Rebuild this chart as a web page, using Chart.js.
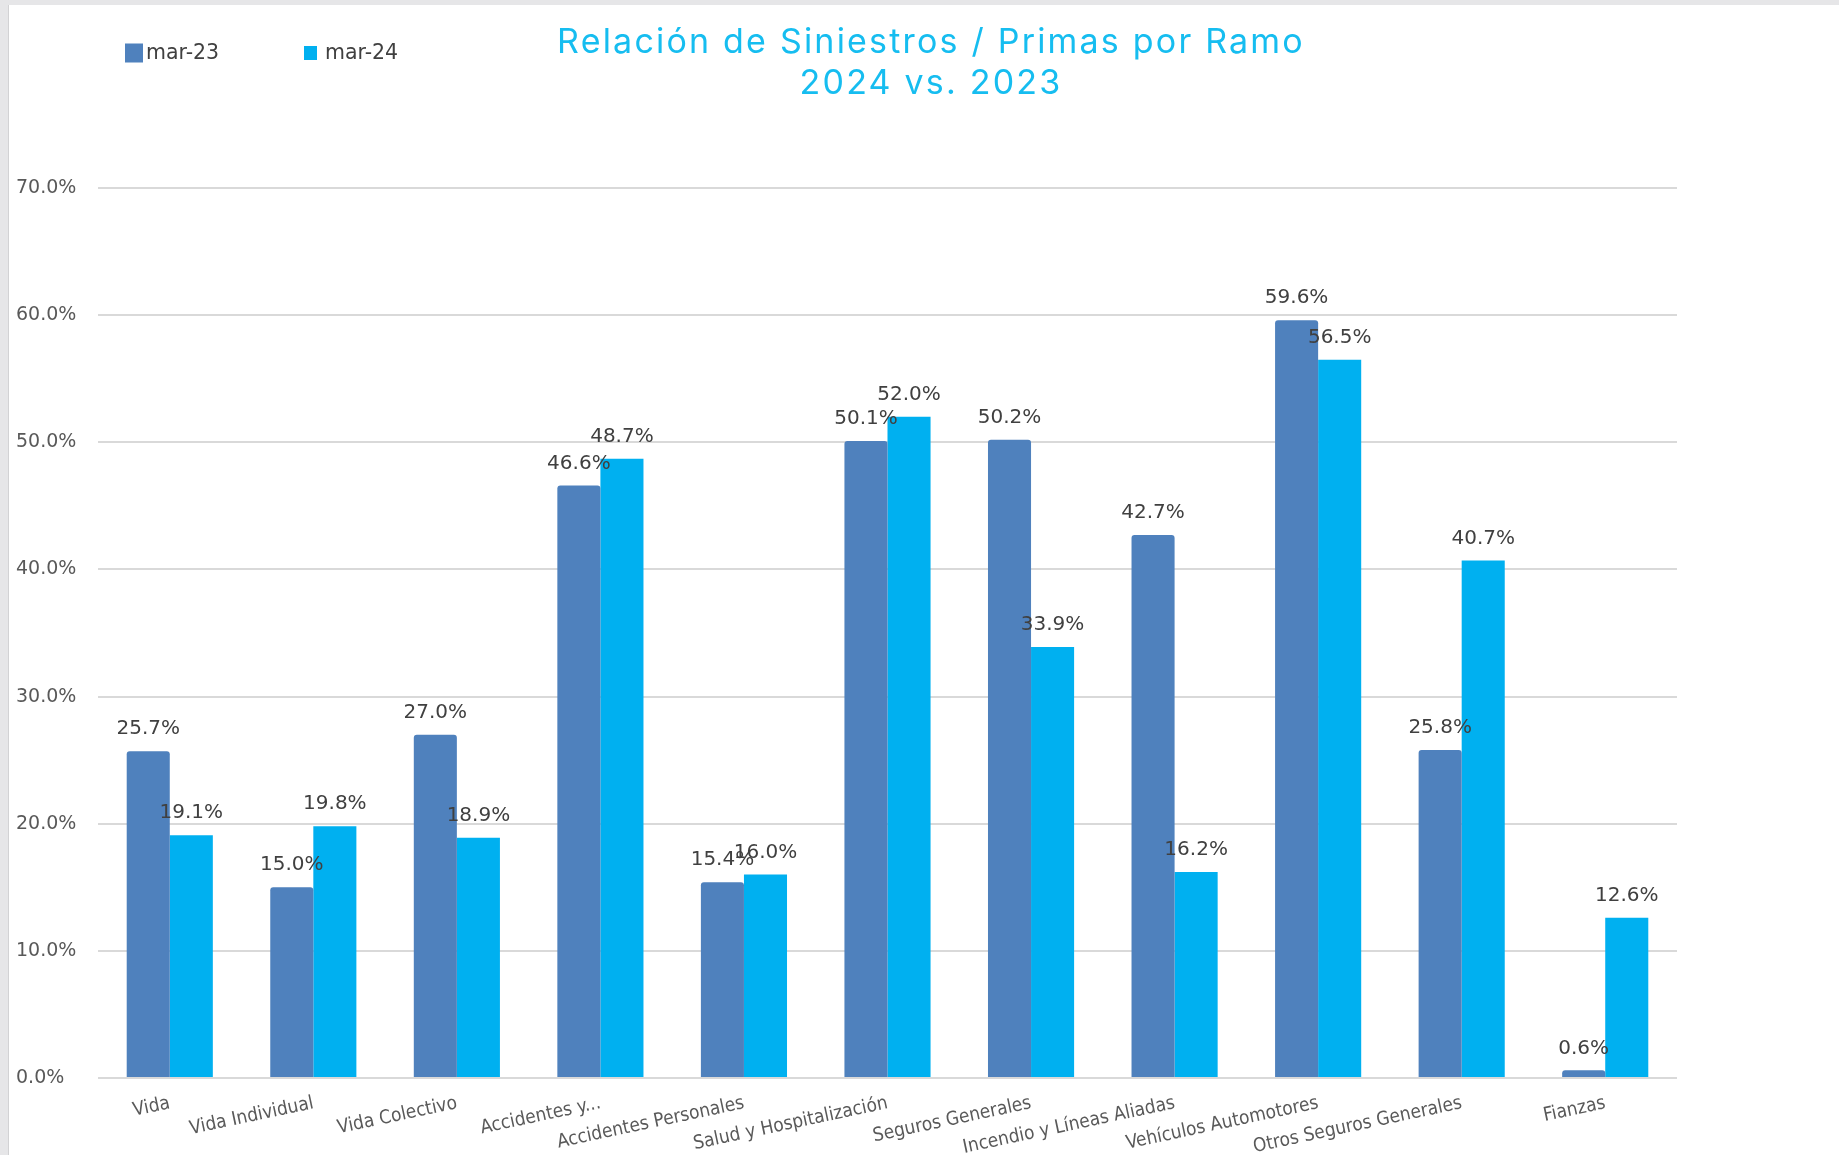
<!DOCTYPE html>
<html>
<head>
<meta charset="utf-8">
<script src="https://cdn.jsdelivr.net/npm/chart.js@4.4.1/dist/chart.umd.min.js"></script>
<style>
    body { margin: 0; background: #e6e6e8; width: 1839px; height: 1155px; overflow: hidden; }
    #wrap { position: absolute; left: 8px; top: 5px; width: 1830px; height: 1150px; background: #fff; border-left: 1px solid #d2d2d4; }
</style>
</head>
<body>
<div id="wrap"><canvas id="chart" width="1830" height="1150"></canvas></div>
<script>
// Data
const categories = [
    'Vida', 'Vida Individual', 'Vida Colectivo', 'Accidentes y...', 'Accidentes Personales',
    'Salud y Hospitalización', 'Seguros Generales', 'Incendio y Líneas Aliadas',
    'Vehículos Automotores', 'Otros Seguros Generales', 'Fianzas'
];
const mar23 = [25.7, 15.0, 27.0, 46.6, 15.4, 50.1, 50.2, 42.7, 59.6, 25.8, 0.6];
const mar24 = [19.1, 19.8, 18.9, 48.7, 16.0, 52.0, 33.9, 16.2, 56.5, 40.7, 12.6];
const yTicks = [0, 10, 20, 30, 40, 50, 60, 70];
const seriesNames = ['mar-23', 'mar-24'];
const titleLines = ['Relación de Siniestros / Primas por Ramo', '2024 vs. 2023'];

const darkBlue = '#4f81bd';
const lightBlue = '#00b0f0';
const textGray = '#404040';

// value labels above every bar
const valueLabels = {
    id: 'valueLabels',
    afterDatasetsDraw(chart) {
        const ctx = chart.ctx;
        ctx.save();
        ctx.font = '20px "DejaVu Sans"';
        ctx.fillStyle = textGray;
        ctx.textAlign = 'center';
        ctx.textBaseline = 'bottom';
        chart.data.datasets.forEach((ds, i) => {
            chart.getDatasetMeta(i).data.forEach((bar, j) => {
                ctx.fillText(ds.data[j].toFixed(1) + '%', bar.x, bar.y - 12);
            });
        });
        ctx.restore();
    }
};

// title + legend drawn like the Excel original
const header = {
    id: 'header',
    afterDraw(chart) {
        const ctx = chart.ctx;
        ctx.save();
        ctx.fillStyle = '#16bdf0';
        ctx.font = '34px Inter';
        ctx.letterSpacing = '2.2px';
        ctx.textAlign = 'center';
        ctx.textBaseline = 'middle';
        titleLines.forEach((t, i) => ctx.fillText(t, chart.width / 2 + 7, 38 + i * 41));
        ctx.letterSpacing = '0px';

        ctx.font = '20.5px "DejaVu Sans"';
        ctx.textAlign = 'left';
        const boxes = [{ x: 116, w: 18, h: 19 }, { x: 295, w: 13, h: 14 }];
        chart.data.datasets.forEach((ds, i) => {
            const b = boxes[i];
            ctx.fillStyle = ds.backgroundColor;
            ctx.fillRect(b.x, 48 - b.h / 2, b.w, b.h);
            ctx.fillStyle = textGray;
            ctx.fillText(ds.label, b.x + b.w + 3 + (i ? 5 : 0), 49);
        });
        ctx.restore();
    }
};

new Chart(document.getElementById('chart'), {
    type: 'bar',
    data: {
        labels: categories,
        datasets: [
            { label: seriesNames[0], data: mar23, backgroundColor: darkBlue, borderRadius: { topLeft: 3, topRight: 3 } },
            { label: seriesNames[1], data: mar24, backgroundColor: lightBlue }
        ]
    },
    options: {
        responsive: false,
        animation: false,
        devicePixelRatio: 1,
        categoryPercentage: 0.6,
        barPercentage: 1.0,
        layout: { padding: { left: 7, top: 183, right: 162, bottom: 0 } },
        plugins: {
            legend: { display: false },
            title: { display: false },
            tooltip: { enabled: false }
        },
        scales: {
            x: {
                grid: { display: false },
                border: { display: false },
                ticks: {
                    autoSkip: false,
                    minRotation: 12,
                    maxRotation: 12,
                    padding: 6,
                    color: '#595959',
                    font: { family: '"Liberation Sans Narrow", "DejaVu Sans Condensed", "Open Sans"', size: 19 }
                },
                afterFit: s => { s.height = 77; }
            },
            y: {
                min: 0,
                max: 70,
                border: { display: false },
                grid: { color: '#d9d9d9', lineWidth: 2, drawTicks: false },
                afterBuildTicks: s => { s.ticks = yTicks.map(v => ({ value: v })); },
                ticks: {
                    crossAlign: 'far',
                    color: '#595959',
                    font: { family: '"DejaVu Sans"', size: 19 },
                    callback: v => v.toFixed(1) + '%'
                },
                afterFit: s => { s.width = 82; }
            }
        }
    },
    plugins: [valueLabels, header]
});
</script>
</body>
</html>
